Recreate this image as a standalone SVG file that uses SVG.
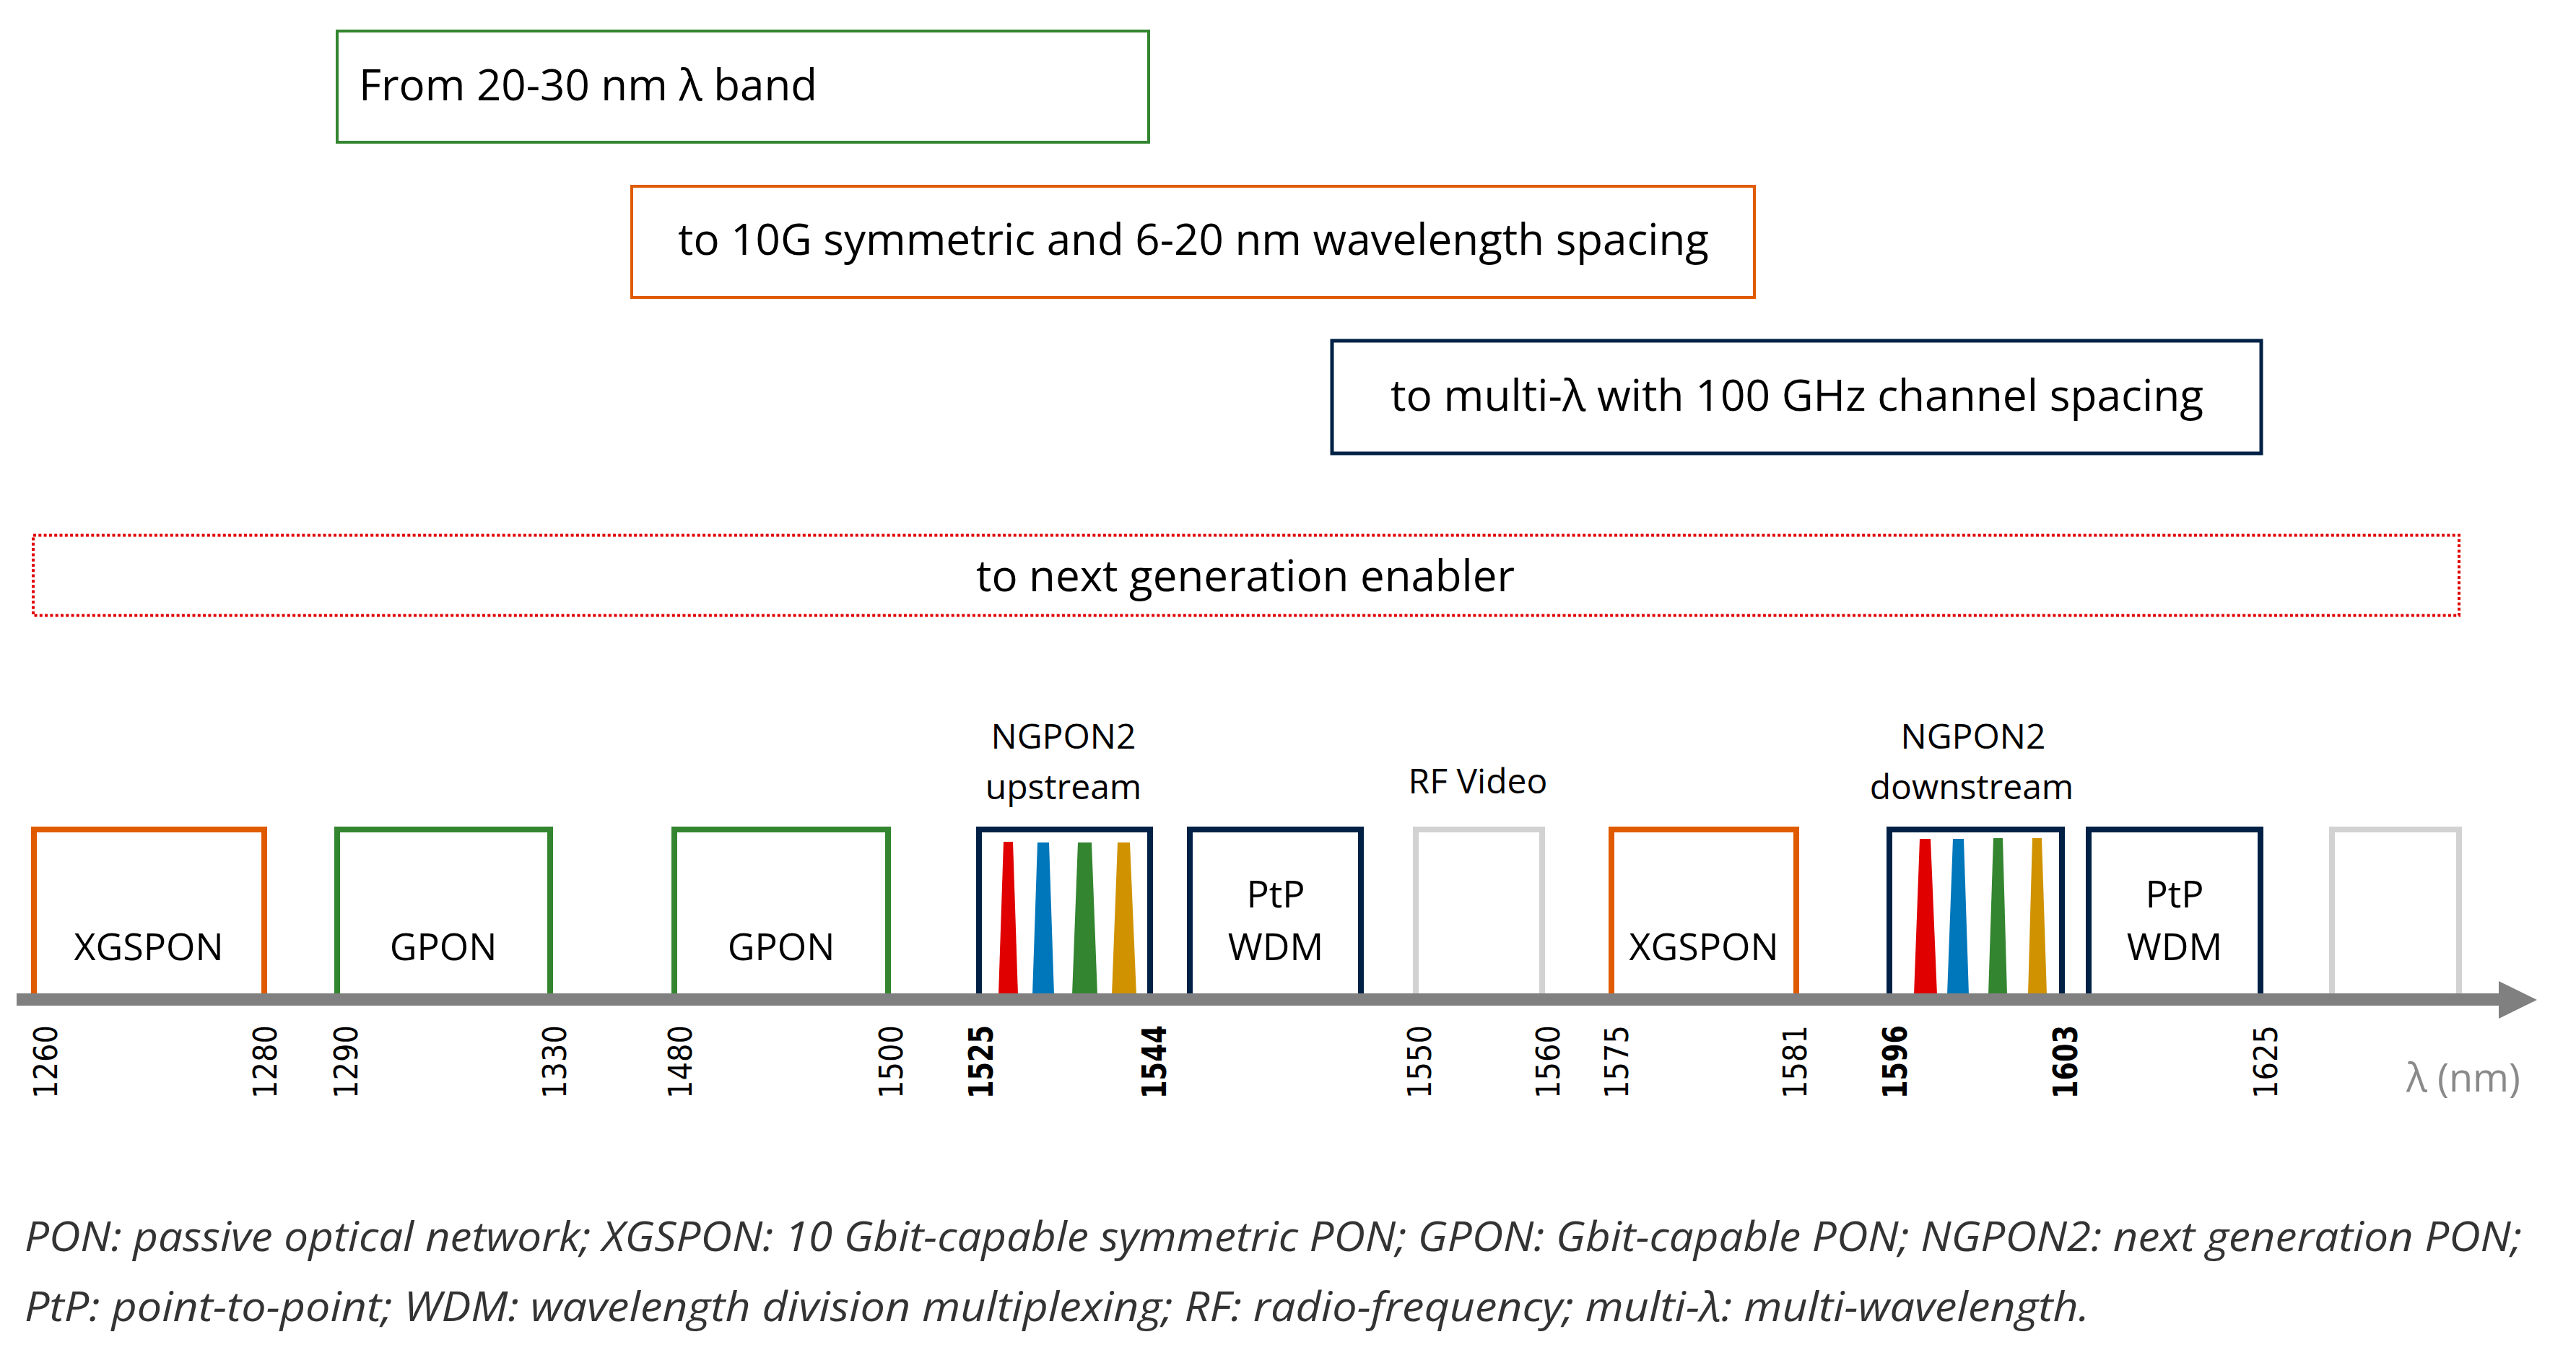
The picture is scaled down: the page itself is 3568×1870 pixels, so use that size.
<svg xmlns="http://www.w3.org/2000/svg" width="3568" height="1870" viewBox="0 0 3568 1870">
<style>
.t{font-family:"Open Sans","Liberation Sans",sans-serif;fill:#000}
.top{font-size:60px}
.lbl{font-size:52px;text-anchor:middle}
.cap{font-size:48px;text-anchor:middle}
.tick{font-family:"DejaVu Sans","Liberation Sans",sans-serif;font-size:44px;fill:#000;text-anchor:end}
.tb{font-weight:bold;font-size:46px}
.band{fill:none;stroke-width:8}
.or{stroke:#E05A00}.gr{stroke:#33852F}.nv{stroke:#002145}.gy{stroke:#D2D2D2}
.foot{font-family:"Open Sans","Liberation Sans",sans-serif;font-style:italic;font-size:57px;fill:#333333}
</style>
<rect width="3568" height="1870" fill="#fff"/>

<g id="box-from">
<rect x="467" y="43" width="1124" height="154" fill="none" stroke="#33852F" stroke-width="4"/>
<text class="t top" x="497" y="139" textLength="635" lengthAdjust="spacingAndGlyphs">From 20-30 nm λ band</text>
</g>
<g id="box-10g">
<rect x="875" y="258" width="1555" height="154" fill="none" stroke="#E05A00" stroke-width="4"/>
<text class="t top" x="939" y="353" textLength="1428" lengthAdjust="spacingAndGlyphs">to 10G symmetric and 6-20 nm wavelength spacing</text>
</g>
<g id="box-multi">
<rect x="1845" y="472" width="1287" height="156" fill="none" stroke="#002145" stroke-width="5"/>
<text class="t top" x="1926" y="569" textLength="1126" lengthAdjust="spacingAndGlyphs">to multi-λ with 100 GHz channel spacing</text>
</g>
<g id="box-next">
<rect x="46" y="741.5" width="3360" height="111" fill="none" stroke="#E00000" stroke-width="4" stroke-dasharray="4 3.3"/>
<text class="t top" x="1725" y="819" text-anchor="middle" textLength="746" lengthAdjust="spacingAndGlyphs">to next generation enabler</text>
</g>

<g id="band-xgspon1">
<path class="band or" d="M47 1380V1149H366V1380"/>
<text class="t lbl" x="206" y="1330">XGSPON</text>
</g>
<g id="band-gpon1">
<path class="band gr" d="M467 1380V1149H762V1380"/>
<text class="t lbl" x="614" y="1330">GPON</text>
</g>
<g id="band-gpon2">
<path class="band gr" d="M934 1380V1149H1230V1380"/>
<text class="t lbl" x="1082" y="1330">GPON</text>
</g>
<g id="band-ngpon2-up">
<path class="band nv" d="M1356 1380V1149H1593V1380"/>
<polygon points="1383,1378 1390,1166 1403,1166 1410,1378" fill="#E00000"/>
<polygon points="1430,1378 1437,1167 1453,1167 1460,1378" fill="#0077BB"/>
<polygon points="1485,1378 1493,1167 1512,1167 1520,1378" fill="#33852F"/>
<polygon points="1540,1378 1548,1167 1565,1167 1574,1378" fill="#D09200"/>
<text class="t cap" x="1473" y="1037">NGPON2</text>
<text class="t cap" x="1473" y="1107">upstream</text>
</g>
<g id="band-ptp1">
<path class="band nv" d="M1648 1380V1149H1885V1380"/>
<text class="t lbl" x="1767" y="1257">PtP</text>
<text class="t lbl" x="1767" y="1330">WDM</text>
</g>
<g id="band-rf">
<path class="band gy" d="M1961 1380V1149H2136V1380"/>
<text class="t cap" x="2047" y="1099">RF Video</text>
</g>
<g id="band-xgspon2">
<path class="band or" d="M2232 1380V1149H2488V1380"/>
<text class="t lbl" x="2360" y="1330">XGSPON</text>
</g>
<g id="band-ngpon2-down">
<path class="band nv" d="M2617 1380V1149H2856V1380"/>
<polygon points="2651,1378 2659,1162 2674,1162 2683,1378" fill="#E00000"/>
<polygon points="2697,1378 2705,1162 2720,1162 2727,1378" fill="#0077BB"/>
<polygon points="2754,1378 2761,1161 2774,1161 2780,1378" fill="#33852F"/>
<polygon points="2809,1378 2815,1161 2828,1161 2835,1378" fill="#D09200"/>
<text class="t cap" x="2733" y="1037">NGPON2</text>
<text class="t cap" x="2731" y="1107">downstream</text>
</g>
<g id="band-ptp2">
<path class="band nv" d="M2893 1380V1149H3131V1380"/>
<text class="t lbl" x="3012" y="1257">PtP</text>
<text class="t lbl" x="3012" y="1330">WDM</text>
</g>
<g id="band-spare">
<path class="band gy" d="M3230 1380V1149H3406V1380"/>
</g>

<g id="connectors">
<rect x="23" y="1376" width="3440" height="17" fill="#808080"/>
<polygon points="3461,1359 3514,1385 3461,1411" fill="#808080"/>
</g>

<g id="ticks">
<text class="tick" transform="translate(79,1420) rotate(-90)" textLength="102" lengthAdjust="spacingAndGlyphs">1260</text>
<text class="tick" transform="translate(383,1420) rotate(-90)" textLength="102" lengthAdjust="spacingAndGlyphs">1280</text>
<text class="tick" transform="translate(495,1420) rotate(-90)" textLength="102" lengthAdjust="spacingAndGlyphs">1290</text>
<text class="tick" transform="translate(784,1420) rotate(-90)" textLength="102" lengthAdjust="spacingAndGlyphs">1330</text>
<text class="tick" transform="translate(958,1420) rotate(-90)" textLength="102" lengthAdjust="spacingAndGlyphs">1480</text>
<text class="tick" transform="translate(1250,1420) rotate(-90)" textLength="102" lengthAdjust="spacingAndGlyphs">1500</text>
<text class="tick tb" transform="translate(1375,1420) rotate(-90)" textLength="102" lengthAdjust="spacingAndGlyphs">1525</text>
<text class="tick tb" transform="translate(1615,1420) rotate(-90)" textLength="102" lengthAdjust="spacingAndGlyphs">1544</text>
<text class="tick" transform="translate(1982,1420) rotate(-90)" textLength="102" lengthAdjust="spacingAndGlyphs">1550</text>
<text class="tick" transform="translate(2160,1420) rotate(-90)" textLength="102" lengthAdjust="spacingAndGlyphs">1560</text>
<text class="tick" transform="translate(2255,1420) rotate(-90)" textLength="102" lengthAdjust="spacingAndGlyphs">1575</text>
<text class="tick" transform="translate(2502,1420) rotate(-90)" textLength="102" lengthAdjust="spacingAndGlyphs">1581</text>
<text class="tick tb" transform="translate(2641,1420) rotate(-90)" textLength="102" lengthAdjust="spacingAndGlyphs">1596</text>
<text class="tick tb" transform="translate(2877,1420) rotate(-90)" textLength="102" lengthAdjust="spacingAndGlyphs">1603</text>
<text class="tick" transform="translate(3154,1420) rotate(-90)" textLength="102" lengthAdjust="spacingAndGlyphs">1625</text>
<text x="3491" y="1512" text-anchor="end" style="font-family:'Open Sans','Liberation Sans',sans-serif;font-size:54px;fill:#8A8A8A">λ (nm)</text>
</g>

<g id="footnote">
<text class="foot" x="34" y="1733" textLength="3459" lengthAdjust="spacingAndGlyphs">PON: passive optical network; XGSPON: 10 Gbit-capable symmetric PON; GPON: Gbit-capable PON; NGPON2: next generation PON;</text>
<text class="foot" x="34" y="1830" textLength="2860" lengthAdjust="spacingAndGlyphs">PtP: point-to-point; WDM: wavelength division multiplexing; RF: radio-frequency; multi-λ: multi-wavelength.</text>
</g>
</svg>
